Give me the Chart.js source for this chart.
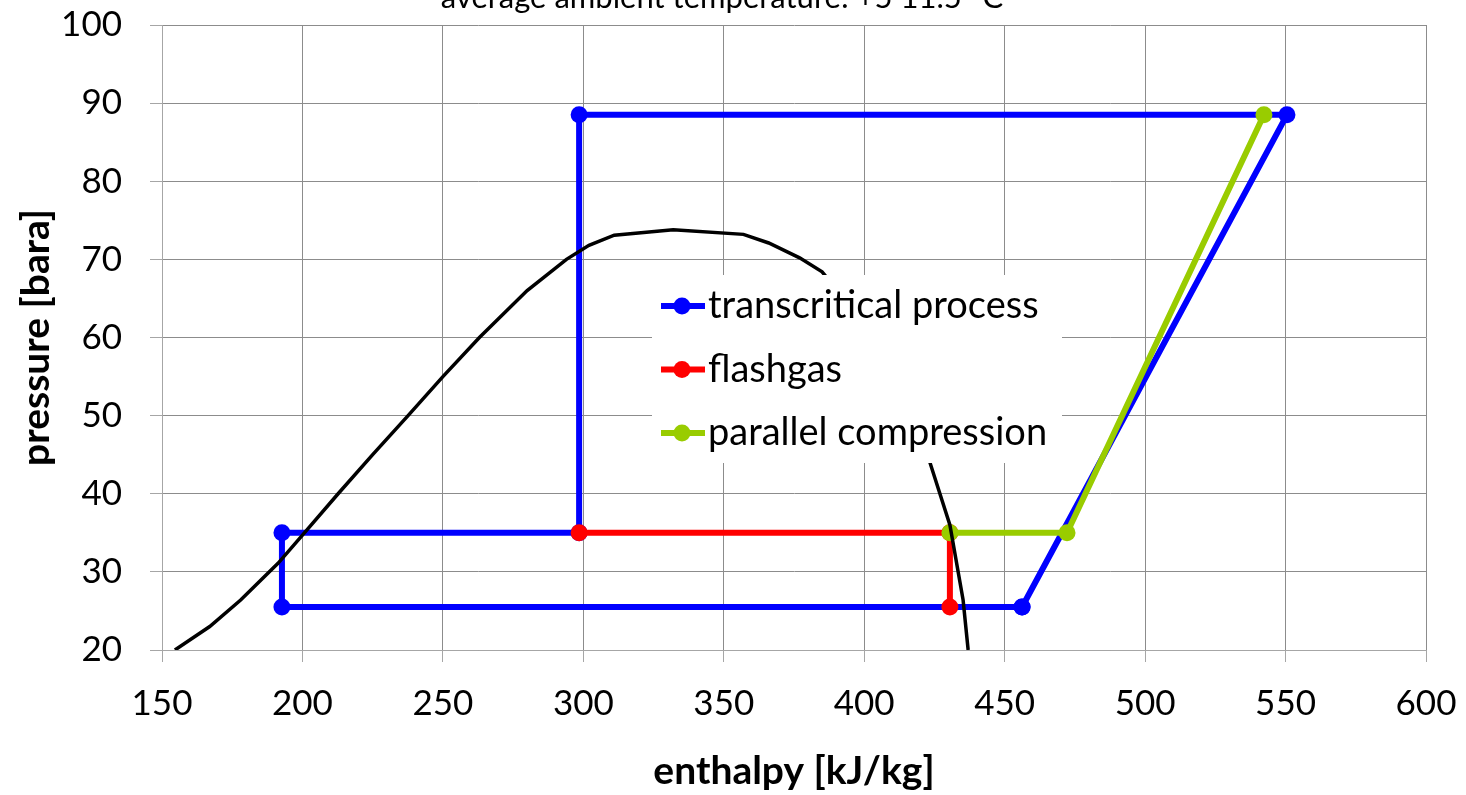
<!DOCTYPE html>
<html>
<head>
<meta charset="utf-8">
<script src="https://cdn.jsdelivr.net/npm/chart.js@4.4.1/dist/chart.umd.min.js"></script>
<style>
  html, body { margin: 0; padding: 0; background: #fff; }
  #wrap { width: 1466px; height: 795px; }
</style>
</head>
<body>
<div id="wrap"><canvas id="chart" width="1466" height="795"></canvas></div>
<script>
// title is cut off at the top edge in the original
const titleText = "average ambient temperature: +5 11.5 °C";

// saturation curve (enthalpy kJ/kg, pressure bara)
const satEnthalpy = [154.6, 167, 178, 191.3, 200, 212.7, 225, 237.6, 250, 263, 280, 294, 302, 311, 332, 357, 366, 377, 385, 402, 414, 423.4, 430.5, 435.2, 437];
const satPressure = [20, 23, 26.4, 31.1, 34.7, 40, 45, 50, 55, 60, 66, 70, 71.8, 73.1, 73.8, 73.2, 72.1, 70.2, 68.4, 61, 52, 44, 36, 26.4, 20];

const transEnthalpy = [456.2, 550.5, 298.5, 298.5, 192.7, 192.7, 456.2];
const transPressure = [25.5, 88.5, 88.5, 35, 35, 25.5, 25.5];

const flashEnthalpy = [298.5, 430.5, 430.5];
const flashPressure = [35, 35, 25.5];

const parallelEnthalpy = [430.5, 472.2, 542.3];
const parallelPressure = [35, 35, 88.5];

const xMin = 150, xMax = 600, xStep = 50;
const yMin = 20, yMax = 100, yStep = 10;

const FONT = "Lato, 'Open Sans', sans-serif";
Chart.defaults.font.family = FONT;
Chart.defaults.color = "#000";

function pts(xs, ys) {
    return xs.map((x, i) => ({ x: x, y: ys[i] }));
}

function series(label, xs, ys, color) {
    return {
        label: label,
        data: pts(xs, ys),
        borderColor: color,
        backgroundColor: color,
        borderWidth: 6,
        pointRadius: 8.5,
        pointHoverRadius: 8.5,
        pointBorderWidth: 0,
        borderJoinStyle: "round",
        borderCapStyle: "round",
        showLine: true,
    };
}

// first dataset ends up drawn on top
const datasets = [
    {
        label: "saturation",
        data: pts(satEnthalpy, satPressure),
        borderColor: "#000",
        borderWidth: 3.5,
        pointRadius: 0,
        showLine: true,
    },
    series("parallel compression", parallelEnthalpy, parallelPressure, "#99cc00"),
    series("flashgas", flashEnthalpy, flashPressure, "#ff0000"),
    series("transcritical process", transEnthalpy, transPressure, "#0000ff"),
];
const legendOrder = ["transcritical process", "flashgas", "parallel compression"];

const overlay = {
    id: "overlay",
    afterDatasetsDraw(chart) {
        const { ctx, chartArea } = chart;
        const bx = chartArea.left + 490;
        const by = chartArea.top + 250;
        ctx.save();
        ctx.fillStyle = "#fff";
        ctx.fillRect(bx, by, 410, 188);
        legendOrder.forEach((name, i) => {
            const ds = chart.data.datasets.find((d) => d.label === name);
            const cy = by + 31 + i * 63.5;
            ctx.strokeStyle = ds.borderColor;
            ctx.lineWidth = 6;
            ctx.beginPath();
            ctx.moveTo(bx + 9, cy);
            ctx.lineTo(bx + 53, cy);
            ctx.stroke();
            ctx.fillStyle = ds.borderColor;
            ctx.beginPath();
            ctx.arc(bx + 30, cy, 8.5, 0, Math.PI * 2);
            ctx.fill();
            ctx.fillStyle = "#000";
            ctx.font = "38px " + FONT;
            ctx.textAlign = "left";
            ctx.textBaseline = "middle";
            ctx.fillText(name, bx + 56, cy);
        });
        ctx.restore();
    },
    afterDraw(chart) {
        const { ctx } = chart;
        ctx.save();
        ctx.fillStyle = "#000";
        ctx.font = "31px " + FONT;
        ctx.textAlign = "center";
        ctx.textBaseline = "alphabetic";
        ctx.fillText(titleText, 722, 8);
        ctx.restore();
    },
};

new Chart(document.getElementById("chart"), {
    type: "scatter",
    data: { datasets: datasets },
    options: {
        responsive: false,
        animation: false,
        devicePixelRatio: 1,
        layout: { padding: { top: 25, right: 40, left: 0, bottom: 0 } },
        plugins: {
            legend: { display: false },
            tooltip: { enabled: false },
        },
        scales: {
            x: {
                type: "linear",
                min: xMin,
                max: xMax,
                ticks: { stepSize: xStep, padding: 21, font: { size: 35 } },
                grid: { color: "#8c8c8c", tickLength: 12, tickColor: "#a6a6a6" },
                border: { color: "#a6a6a6" },
                title: {
                    display: true,
                    text: "enthalpy [kJ/kg]",
                    font: { size: 39, weight: "bold" },
                    padding: { top: 0, bottom: 0 },
                },
                afterFit(scale) {
                    scale.height = 145;
                    scale.paddingLeft = 0;
                    scale.paddingRight = 0;
                },
            },
            y: {
                type: "linear",
                min: yMin,
                max: yMax,
                ticks: { stepSize: yStep, padding: 28, font: { size: 35 } },
                grid: { color: "#8c8c8c", tickLength: 12, tickColor: "#a6a6a6" },
                border: { color: "#a6a6a6" },
                title: {
                    display: true,
                    text: "pressure [bara]",
                    font: { size: 39, weight: "bold" },
                    padding: { top: 13, bottom: 0 },
                },
                afterFit(scale) {
                    scale.width = 162;
                    scale.paddingTop = 0;
                    scale.paddingBottom = 0;
                },
            },
        },
    },
    plugins: [overlay],
});
</script>
</body>
</html>
